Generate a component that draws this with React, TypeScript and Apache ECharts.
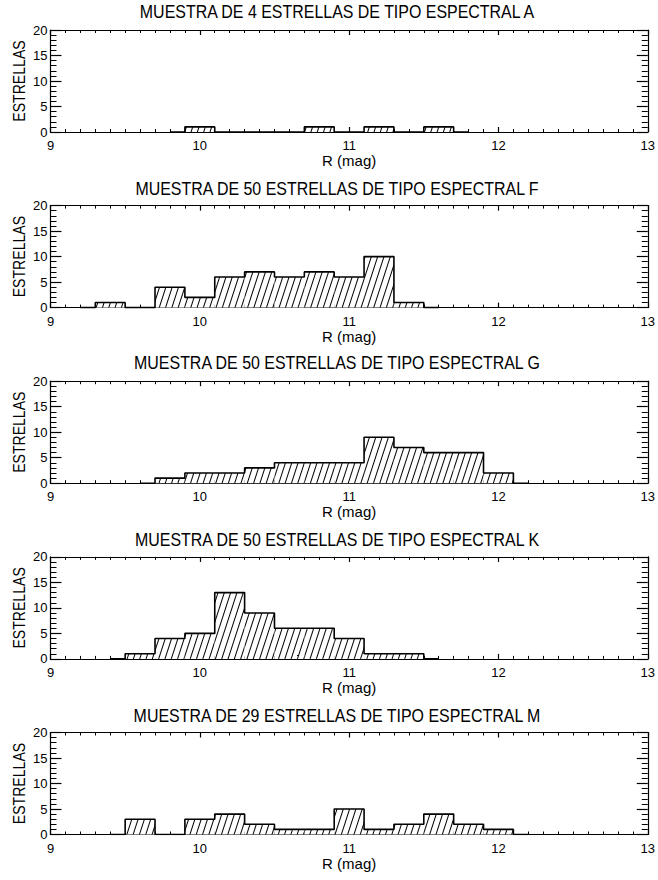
import React, { useEffect, useRef } from "react";
import * as echarts from "echarts";

// ---- data ----
const titles = [
  "MUESTRA DE 4 ESTRELLAS DE TIPO ESPECTRAL A",
  "MUESTRA DE 50 ESTRELLAS DE TIPO ESPECTRAL F",
  "MUESTRA DE 50 ESTRELLAS DE TIPO ESPECTRAL G",
  "MUESTRA DE 50 ESTRELLAS DE TIPO ESPECTRAL K",
  "MUESTRA DE 29 ESTRELLAS DE TIPO ESPECTRAL M",
];

const xTickValues = [9, 10, 11, 12, 13];
const xTickLabels = ["9", "10", "11", "12", "13"];
const yTickValues = [0, 5, 10, 15, 20];
const yTickLabels = ["0", "5", "10", "15", "20"];

const centersA = [9.8, 10.0, 10.2, 10.4, 10.6, 10.8, 11.0, 11.2, 11.4, 11.6, 11.8];
const countsA = [0, 1, 0, 0, 0, 1, 0, 1, 0, 1, 0];

const centersF = [9.2, 9.4, 9.6, 9.8, 10.0, 10.2, 10.4, 10.6, 10.8, 11.0, 11.2, 11.4, 11.6];
const countsF = [0, 1, 0, 4, 2, 6, 7, 6, 7, 6, 10, 1, 0];

const centersG = [9.6, 9.8, 10.0, 10.2, 10.4, 10.6, 10.8, 11.0, 11.2, 11.4, 11.6, 11.8, 12.0, 12.2];
const countsG = [0, 1, 2, 2, 3, 4, 4, 4, 9, 7, 6, 6, 2, 0];

const centersK = [9.4, 9.6, 9.8, 10.0, 10.2, 10.4, 10.6, 10.8, 11.0, 11.2, 11.4, 11.6];
const countsK = [0, 1, 4, 5, 13, 9, 6, 6, 4, 1, 1, 0];

const centersM = [9.4, 9.6, 9.8, 10.0, 10.2, 10.4, 10.6, 10.8, 11.0, 11.2, 11.4, 11.6, 11.8, 12.0, 12.2];
const countsM = [0, 3, 0, 3, 4, 2, 1, 1, 5, 1, 2, 4, 2, 1, 0];

const panels = [
  { centers: centersA, counts: countsA },
  { centers: centersF, counts: countsF },
  { centers: centersG, counts: countsG },
  { centers: centersK, counts: countsK },
  { centers: centersM, counts: countsM },
];

// ---- layout ----
const GRID_LEFT = 50.5;
const GRID_WIDTH = 597.5;
const GRID_HEIGHT = 102;
const gridTops = [30, 205.6, 381.2, 556.9, 732.5];
const titleYs = [12, 189, 363, 540, 716];
const TITLE_X = 337;
const yNameYs = gridTops.map((t) => t + GRID_HEIGHT / 2);

const FONT = "'Liberation Sans', Arial, sans-serif";

export default function App() {
  const ref = useRef<HTMLDivElement>(null);

  useEffect(() => {
    document.body.style.margin = "0";
    if (!ref.current) return;
    const chart = echarts.init(ref.current, null, { renderer: "svg" });

    const grid: any[] = [];
    const xAxis: any[] = [];
    const yAxis: any[] = [];
    const series: any[] = [];
    const graphic: any[] = [];

    const line = { lineStyle: { color: "#000", width: 1.2 } };

    panels.forEach((p, i) => {
      grid.push({ left: GRID_LEFT, top: gridTops[i], width: GRID_WIDTH, height: GRID_HEIGHT });

      xAxis.push({
        type: "value",
        gridIndex: i,
        position: "bottom",
        min: 9,
        max: 13,
        interval: 1,
        axisLine: { show: true, onZero: false, ...line },
        axisTick: { show: true, inside: true, length: 5, ...line },
        minorTick: { show: true, splitNumber: 10, length: 3, lineStyle: { color: "#000", width: 1 } },
        splitLine: { show: false },
        axisLabel: {
          show: true,
          margin: 7,
          fontSize: 13,
          fontFamily: FONT,
          color: "#000",
          formatter: (v: number) => {
            const k = xTickValues.indexOf(v);
            return k >= 0 ? xTickLabels[k] : "";
          },
        },
        name: "R (mag)",
        nameLocation: "middle",
        nameGap: 21,
        nameTextStyle: { fontSize: 15, fontFamily: FONT, color: "#000" },
      });
      xAxis.push({
        type: "value",
        gridIndex: i,
        position: "top",
        min: 9,
        max: 13,
        interval: 1,
        axisLine: { show: true, onZero: false, ...line },
        axisTick: { show: true, inside: true, length: 5, ...line },
        minorTick: { show: true, splitNumber: 10, length: 3, lineStyle: { color: "#000", width: 1 } },
        splitLine: { show: false },
        axisLabel: { show: false },
      });

      yAxis.push({
        type: "value",
        gridIndex: i,
        position: "left",
        min: 0,
        max: 20,
        interval: 5,
        axisLine: { show: true, onZero: false, ...line },
        axisTick: { show: true, inside: true, length: 11, ...line },
        minorTick: { show: true, splitNumber: 5, length: 6, lineStyle: { color: "#000", width: 1 } },
        splitLine: { show: false },
        axisLabel: {
          show: true,
          margin: 3,
          fontSize: 13,
          fontFamily: FONT,
          color: "#000",
          formatter: (v: number) => {
            const k = yTickValues.indexOf(v);
            return k >= 0 ? yTickLabels[k] : "";
          },
        },
      });
      yAxis.push({
        type: "value",
        gridIndex: i,
        position: "right",
        min: 0,
        max: 20,
        interval: 5,
        axisLine: { show: true, onZero: false, ...line },
        axisTick: { show: true, inside: true, length: 11, ...line },
        minorTick: { show: true, splitNumber: 5, length: 6, lineStyle: { color: "#000", width: 1 } },
        splitLine: { show: false },
        axisLabel: { show: false },
      });

      const data = p.centers.map((c, k) => [c, p.counts[k]]);

      series.push({
        type: "bar",
        xAxisIndex: 2 * i,
        yAxisIndex: 2 * i,
        data,
        barWidth: "100%",
        barGap: "0%",
        itemStyle: {
          color: "#fff",
          decal: {
            symbol: "rect",
            symbolSize: 1,
            color: "#000",
            backgroundColor: "rgba(0,0,0,0)",
            dashArrayX: [1, 0],
            dashArrayY: [1, 5],
            rotation: (-72 * Math.PI) / 180,
          },
        },
        z: 2,
      });
      series.push({
        type: "line",
        xAxisIndex: 2 * i,
        yAxisIndex: 2 * i,
        data,
        step: "middle",
        showSymbol: false,
        symbol: "none",
        lineStyle: { color: "#000", width: 1.6 },
        z: 3,
      });

      graphic.push({
        type: "text",
        x: TITLE_X,
        y: titleYs[i],
        scaleX: 0.84,
        originX: 0,
        style: {
          text: titles[i],
          fontSize: 19,
          fontFamily: FONT,
          fill: "#000",
          textAlign: "center",
          textVerticalAlign: "middle",
        },
      });
      graphic.push({
        type: "text",
        x: 19,
        y: yNameYs[i],
        rotation: Math.PI / 2,
        scaleX: 0.88,
        style: {
          text: "ESTRELLAS",
          fontSize: 16,
          fontFamily: FONT,
          fill: "#000",
          textAlign: "center",
          textVerticalAlign: "middle",
        },
      });
    });

    chart.setOption({
      animation: false,
      backgroundColor: "#fff",
      grid,
      xAxis,
      yAxis,
      series,
      graphic,
    });

    return () => chart.dispose();
  }, []);

  return <div ref={ref} style={{ width: 658, height: 880 }} />;
}
